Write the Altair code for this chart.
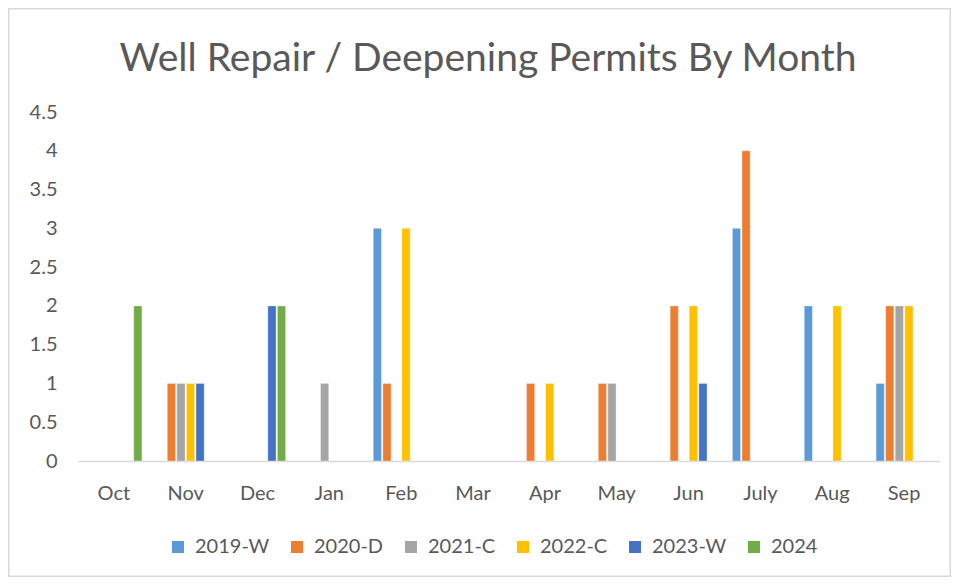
import altair as alt
import pandas as pd

months = ["Oct", "Nov", "Dec", "Jan", "Feb", "Mar", "Apr", "May", "Jun", "July", "Aug", "Sep"]
series = ["2019-W", "2020-D", "2021-C", "2022-C", "2023-W", "2024"]
colors = ["#5B9BD5", "#ED7D31", "#A5A5A5", "#FFC000", "#4472C4", "#70AD47"]
title_text = "Well Repair / Deepening Permits By Month"

v2019_W = [0, 0, 0, 0, 3, 0, 0, 0, 0, 3, 2, 1]
v2020_D = [0, 1, 0, 0, 1, 0, 1, 1, 2, 4, 0, 2]
v2021_C = [0, 1, 0, 1, 0, 0, 0, 1, 0, 0, 0, 2]
v2022_C = [0, 1, 0, 0, 3, 0, 1, 0, 2, 0, 2, 2]
v2023_W = [0, 1, 2, 0, 0, 0, 0, 0, 1, 0, 0, 0]
v2024 = [2, 0, 2, 0, 0, 0, 0, 0, 0, 0, 0, 0]

values = [v2019_W, v2020_D, v2021_C, v2022_C, v2023_W, v2024]
rows = []
for s, vals in zip(series, values):
    for m, v in zip(months, vals):
        if v > 0:
            rows.append({"month": m, "series": s, "value": v})
df = pd.DataFrame(rows)

W, H = 862, 349
PAD_L, PAD_T, PAD_R, PAD_B = 70, 104, 11, 116
FONT = "Lato"
GRAY = "#595959"

bars = alt.Chart(df).mark_bar(stroke="white", strokeWidth=0.6, strokeOpacity=0.6).encode(
    x=alt.X("month:N", sort=months, scale=alt.Scale(domain=months, paddingInner=0.22, paddingOuter=0.11),
            axis=alt.Axis(title=None, labelAngle=0, ticks=False, domainColor="#d9d9d9", domainWidth=1.5,
                          labelPadding=22, labelFontSize=20, labelColor=GRAY, labelFont=FONT)),
    xOffset=alt.XOffset("series:N", scale=alt.Scale(domain=series, paddingInner=0.14)),
    y=alt.Y("value:Q", scale=alt.Scale(domain=[0, 4.5]),
            axis=alt.Axis(title=None, values=[0, 0.5, 1, 1.5, 2, 2.5, 3, 3.5, 4, 4.5], format="~g",
                          grid=False, domain=False, ticks=False, labelPadding=21, labelFontSize=20,
                          labelColor=GRAY, labelFont=FONT)),
    color=alt.Color("series:N", scale=alt.Scale(domain=series, range=colors),
                    legend=alt.Legend(title=None, orient="none", direction="horizontal", columns=6,
                                      legendX=90, legendY=425, symbolType="square", symbolSize=144,
                                      symbolStrokeWidth=0, labelFontSize=20, labelColor=GRAY,
                                      labelFont=FONT, columnPadding=17, labelOffset=7)),
)

border = alt.Chart(pd.DataFrame({"a": [0]})).mark_rect(fill=None, stroke="#d9d9d9", strokeWidth=1.5).encode(
    x=alt.value(-PAD_L + 0.75), x2=alt.value(W + PAD_R - 0.75),
    y=alt.value(-PAD_T + 0.75), y2=alt.value(H + PAD_B - 0.75),
)

title = alt.Chart(pd.DataFrame({"t": [title_text]})).mark_text(
    font=FONT, fontSize=39, color=GRAY, align="center", baseline="alphabetic"
).encode(text="t:N", x=alt.value(410), y=alt.value(-41))

chart = alt.layer(border, bars, title).properties(
    width=W, height=H,
    autosize=alt.AutoSizeParams(type="none"),
    padding={"left": PAD_L, "top": PAD_T, "right": PAD_R, "bottom": PAD_B},
).configure_view(stroke=None)

chart.save("out.html", embed_options={"renderer": "svg", "actions": False})
